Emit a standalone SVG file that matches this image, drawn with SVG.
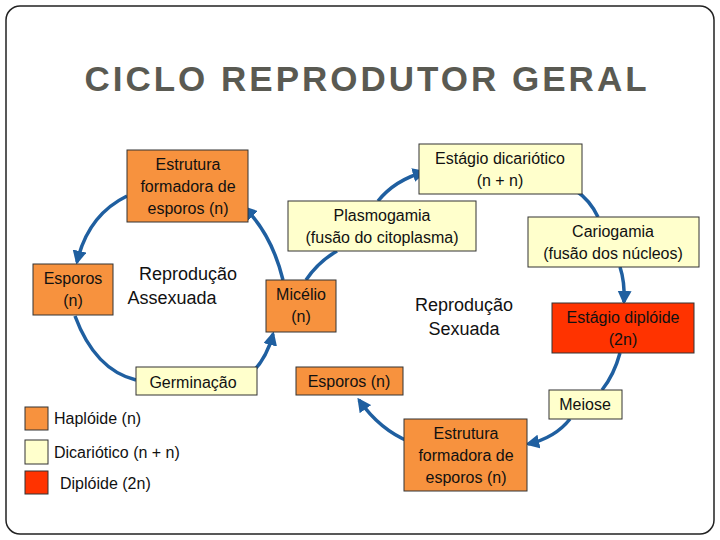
<svg xmlns="http://www.w3.org/2000/svg" width="720" height="540" viewBox="0 0 720 540">
<defs>
<marker id="ah" viewBox="0 0 10 10" refX="8" refY="5" markerWidth="4" markerHeight="4" orient="auto"><path d="M0,0 L10,5 L0,10 z" fill="#1f5fa0"/></marker>
<style>
.o{fill:#f7923e;stroke:#333;stroke-width:1}
.y{fill:#ffffcc;stroke:#333;stroke-width:1}
.r{fill:#ff3300;stroke:#333;stroke-width:1}
text{font-family:"Liberation Sans",Arial,sans-serif;font-size:16px;fill:#111;text-anchor:middle}
.c{fill:none;stroke:#1f5fa0;stroke-width:3.5}
.a{marker-end:url(#ah)}
.l{text-anchor:start}
</style>
</defs>
<rect x="6" y="6" width="708" height="528" rx="14" fill="#fff" stroke="#222" stroke-width="1.5"/>
<text x="367" y="91" style="font-size:35px;font-weight:bold;fill:#5a5a52;letter-spacing:3px">CICLO REPRODUTOR GERAL</text>
<g id="connectors">
<path class="c a" d="M127,196 Q88,215 77,262"/>
<path class="c" d="M75,316 Q95,370 136,380"/>
<path class="c a" d="M243,380 Q265,365 273,334"/>
<path class="c a" d="M283,280 Q272,235 245,208"/>
<path class="c" d="M306,280 Q318,262 337,251"/>
<path class="c a" d="M378,201 Q395,180 424,172"/>
<path class="c" d="M575,190 Q590,200 598,217"/>
<path class="c a" d="M620,267 Q625,282 624,302"/>
<path class="c" d="M620,353 Q614,375 602,390"/>
<path class="c a" d="M570,419 Q555,438 528,444"/>
<path class="c a" d="M410,442 Q380,430 359,400"/>
</g>
<g id="estrutura1"><rect class="o" x="127" y="150" width="121" height="72"/><text x="188" y="170">Estrutura</text><text x="188" y="192">formadora de</text><text x="188" y="214">esporos (n)</text></g>
<g id="esporos1"><rect class="o" x="33" y="264" width="80" height="51"/><text x="73" y="284">Esporos</text><text x="73" y="306">(n)</text></g>
<g id="germinacao"><rect class="y" x="136" y="367" width="121" height="28"/><text x="193" y="388">Germinação</text></g>
<g id="micelio"><rect class="o" x="266" y="280" width="70" height="52"/><text x="301" y="300">Micélio</text><text x="301" y="322">(n)</text></g>
<g id="assexuada"><text x="188" y="280" style="font-size:18px">Reprodução</text><text x="172" y="304" style="font-size:18px">Assexuada</text></g>
<g id="dicariotico"><rect class="y" x="419" y="144" width="163" height="50"/><text x="500" y="164">Estágio dicariótico</text><text x="500" y="186">(n + n)</text></g>
<g id="plasmogamia"><rect class="y" x="288" y="201" width="188" height="50"/><text x="382" y="221">Plasmogamia</text><text x="382" y="243">(fusão do citoplasma)</text></g>
<g id="cariogamia"><rect class="y" x="528" y="217" width="171" height="50"/><text x="613" y="237">Cariogamia</text><text x="613" y="259">(fusão dos núcleos)</text></g>
<g id="diploide"><rect class="r" x="552" y="303" width="142" height="50"/><text x="623" y="323">Estágio diplóide</text><text x="623" y="345">(2n)</text></g>
<g id="sexuada"><text x="464" y="311" style="font-size:18px">Reprodução</text><text x="464" y="335" style="font-size:18px">Sexuada</text></g>
<g id="esporos2"><rect class="o" x="296" y="367" width="107" height="28"/><text x="349" y="387">Esporos (n)</text></g>
<g id="meiose"><rect class="y" x="549" y="390" width="73" height="29"/><text x="585" y="410">Meiose</text></g>
<g id="estrutura2"><rect class="o" x="404" y="419" width="123" height="72"/><text x="466" y="439">Estrutura</text><text x="466" y="461">formadora de</text><text x="466" y="483">esporos (n)</text></g>
<g id="legend">
<rect class="o" x="25" y="407" width="23" height="23"/><text class="l" x="54" y="424">Haplóide (n)</text>
<rect class="y" x="25" y="440" width="23" height="24"/><text class="l" x="54" y="458">Dicariótico (n + n)</text>
<rect class="r" x="25" y="471" width="23" height="23"/><text class="l" x="60" y="489">Diplóide (2n)</text>
</g>
</svg>
